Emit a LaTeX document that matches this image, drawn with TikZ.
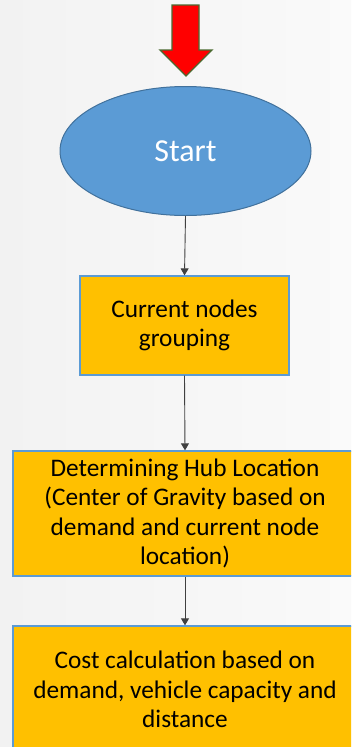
\documentclass[tikz,border=0pt]{standalone}
\usepackage{fontspec}
\setmainfont{Carlito}
\usetikzlibrary{arrows.meta,shapes.geometric}
\definecolor{bgl}{HTML}{F2F2F2}
\definecolor{bgr}{HTML}{FAFAFA}
\definecolor{gold}{HTML}{FFC000}
\definecolor{boxedge}{HTML}{5B9BD5}
\definecolor{ellfill}{HTML}{5B9BD5}
\definecolor{elledge}{HTML}{41719C}
\definecolor{arrowedge}{HTML}{4A6A30}
\tikzset{
  procbox/.style={draw=boxedge, line width=1.3pt, fill=gold, inner sep=0pt, align=center,
    font=\fontsize{25.3}{29.5}\selectfont, text=black},
  startell/.style={ellipse, draw=elledge, line width=1pt, fill=ellfill, inner sep=0pt,
    minimum width=251pt, minimum height=129pt, font=\fontsize{32}{36}\selectfont, text=white},
  conn/.style={draw=black!75, line width=0.9pt, -{Triangle[length=7pt,width=8pt]}},
}
\begin{document}
\begin{tikzpicture}[x=1pt,y=-1pt]
\useasboundingbox (0,0) rectangle (351,747);
\clip (0,0) rectangle (351,747);
\shade[left color=bgl, right color=bgr] (0,0) rectangle (351,747);
% red arrow
\filldraw[fill=red, draw=arrowedge, line width=1.3pt, line join=miter]
  (172,5) -- (199,5) -- (199,50) -- (212,50) -- (186,76) -- (160,50) -- (172,50) -- cycle;
\node[startell] (st) at (185.5,151) {Start};
\node[procbox, minimum width=209pt, minimum height=99pt] (b1) at (184.5,325.5)
  {Current nodes\\grouping};
\node[procbox, minimum width=344pt, minimum height=125pt] (b2) at (185,513.5)
  {Determining Hub Location\\(Center of Gravity based on\\demand and current node\\location)};
\node[procbox, minimum width=344pt, minimum height=127pt] (b3) at (185,689.5)
  {Cost calculation based on\\demand, vehicle capacity and\\distance};
\draw[conn] (st.south) -- (b1.north);
\draw[conn] (b1.south) -- (b2.north);
\draw[conn] (b2.south) -- (b3.north);
\end{tikzpicture}
\end{document}
